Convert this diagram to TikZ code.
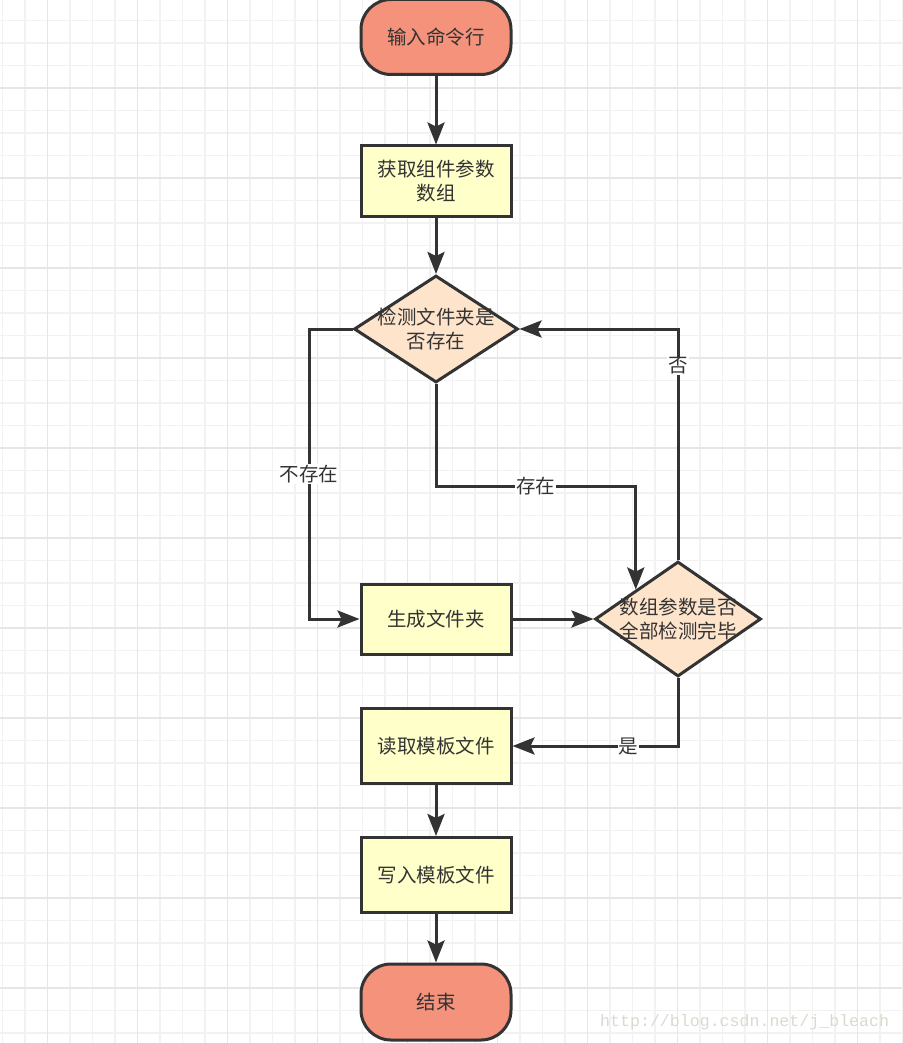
\documentclass[tikz,border=0pt]{standalone}
\usepackage{fontspec}
\setmainfont{Noto Sans CJK SC}
\newfontfamily\wmfont{Liberation Mono}
\usetikzlibrary{shapes.geometric,arrows.meta}
\definecolor{termfill}{RGB}{244,146,124}
\definecolor{procfill}{RGB}{255,255,202}
\definecolor{diafill}{RGB}{255,228,204}
\definecolor{stroke}{RGB}{51,51,51}
\definecolor{gridminor}{RGB}{242,242,242}
\definecolor{gridmajor}{RGB}{230,230,230}
\definecolor{wmcol}{RGB}{218,218,208}
\tikzset{
  basefont/.style={font=\fontsize{19.5}{24}\selectfont, text=stroke, align=center},
  term/.style={basefont, draw=stroke, line width=3pt, fill=termfill, rounded corners=30pt,
    minimum width=150pt, minimum height=75pt, inner sep=0pt},
  proc/.style={basefont, draw=stroke, line width=3pt, fill=procfill,
    minimum width=150pt, minimum height=70pt, inner sep=0pt},
  dia/.style={diamond, draw=stroke, line width=3pt, fill=diafill, inner sep=0pt},
  dtxt/.style={basefont, inner sep=0pt},
  conn/.style={draw=stroke, line width=3pt, -{Stealth[length=22pt,width=17pt,inset=4pt]}},
  lbl/.style={basefont, fill=white, inner sep=1pt},
  wm/.style={font=\wmfont\fontsize{16.6}{18}\selectfont, text=wmcol, inner sep=0pt},
  gridline/.style={draw=gridminor, line width=1.4pt},
  gridbold/.style={draw=gridmajor, line width=1.4pt}
}
\begin{document}
\begin{tikzpicture}[x=1pt,y=-1pt]
\useasboundingbox (0,0) rectangle (902,1043);
\fill[white] (0,0) rectangle (902,1043);
% grid
\foreach \i in {0,...,40}{
  \pgfmathsetmacro\xx{2.5+22.5*\i}
  \draw[gridline] (\xx,0) -- (\xx,1043);
}
\foreach \i in {1,...,47}{
  \pgfmathsetmacro\yy{-2+22.5*\i}
  \draw[gridline] (0,\yy) -- (902,\yy);
}
\foreach \i in {2,6,...,38}{
  \pgfmathsetmacro\xx{2.5+22.5*\i}
  \draw[gridbold] (\xx,0) -- (\xx,1043);
}
\foreach \i in {4,8,...,44}{
  \pgfmathsetmacro\yy{-2+22.5*\i}
  \draw[gridbold] (0,\yy) -- (902,\yy);
}
% nodes
\node[term] (start) at (436,37) {输入命令行};
\node[proc] (b1) at (436,181) {获取组件参数\\数组};
\node[dia, minimum width=164pt, minimum height=107pt,
  label={[dtxt, name=d1t]center:检测文件夹是\\否存在}] (d1) at (436,329) {};
\node[proc] (b2) at (436,619) {生成文件夹};
\node[dia, minimum width=166pt, minimum height=115pt,
  label={[dtxt, name=d2t]center:数组参数是否\\全部检测完毕}] (d2) at (678,619) {};
\node[proc, minimum height=75pt] (b3) at (436,746) {读取模板文件};
\node[proc, minimum height=75pt] (b4) at (436,875) {写入模板文件};
\node[term, minimum height=76pt] (end) at (436,1002) {结束};
\node[wm, anchor=west] (wm) at (600,1022) {http://blog.csdn.net/j\_bleach};
% helper coordinates
\coordinate (c1) at (309,329);
\coordinate (c2) at (309,619);
\coordinate (c3) at (436,486);
\coordinate (c4) at (678,329);
\coordinate (c5) at (678,746);
% connectors
\draw[conn] (start) -- (b1);
\draw[conn] (b1) -- (d1);
\draw[conn] (d1.west) -- (c1) -- node[lbl]{不存在} (c2) -- (b2.west);
\draw[conn] (d1.south) -- (c3) -- node[lbl]{存在} (c3 -| d2.north west) -- (d2.north west);
\draw[conn] (b2) -- (d2);
\draw[conn] (d2.north) -- node[lbl, pos=0.84]{否} (c4) -- (d1.east);
\draw[conn] (d2.south) -- (c5) -- node[lbl, pos=0.3]{是} (b3.east);
\draw[conn] (b3) -- (b4);
\draw[conn] (b4) -- (end);
\end{tikzpicture}
\end{document}
